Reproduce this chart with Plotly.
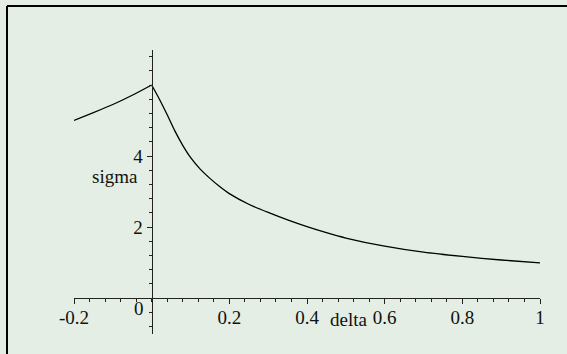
import plotly.graph_objects as go

# ---- data ----
delta_left = [-0.2, -0.15, -0.1, -0.05, 0.0]
sigma_left = [5.0, 5.22, 5.45, 5.71, 6.0]
delta_right = [0.0, 0.02, 0.04, 0.06, 0.08, 0.1, 0.125, 0.15, 0.175, 0.2, 0.25, 0.3,
               0.35, 0.4, 0.45, 0.5, 0.6, 0.7, 0.8, 0.9, 1.0]
sigma_right = [6.0, 5.60, 5.16, 4.70, 4.30, 3.96, 3.63, 3.37, 3.14, 2.94, 2.64, 2.41,
               2.20, 2.01, 1.84, 1.69, 1.46, 1.29, 1.17, 1.07, 0.99]

x_tickvals = [-0.2, 0.2, 0.4, 0.6, 0.8, 1]
x_ticktext = ["-0.2", "0.2", "0.4", "0.6", "0.8", "1"]
y_tickvals = [2, 4]
y_ticktext = ["2", "4"]

W, H = 567, 354
BG = "#E4EEE4"
FONT = "Liberation Serif"
FS = 19
TXT = "#111111"


def px(x):
    return x / W


def py(y):
    return 1 - y / H


x_range = [-0.2, 1.0]
y_range = [-1.0, 7.0]
x_dom = [px(74), px(540)]
y_dom = [py(333.5), py(49.5)]
x0_paper = x_dom[0] + (x_dom[1] - x_dom[0]) * (0 - x_range[0]) / (x_range[1] - x_range[0])
y0_paper = y_dom[0] + (y_dom[1] - y_dom[0]) * (0 - y_range[0]) / (y_range[1] - y_range[0])

fig = go.Figure()
for xs, ys in ((delta_left, sigma_left), (delta_right, sigma_right)):
    fig.add_trace(go.Scatter(x=xs, y=ys, mode="lines",
                             line=dict(color="#000000", width=1.3, shape="spline", smoothing=0.6),
                             hoverinfo="skip", showlegend=False))

axis_color = "#222222"
common_axis = dict(
    showgrid=False, zeroline=False, showline=True, linecolor=axis_color, linewidth=1,
    ticks="outside", ticklen=5, tickwidth=1, tickcolor=axis_color, automargin=False,
    tickfont=dict(family=FONT, size=FS, color=TXT),
)
fig.update_layout(
    width=W, height=H,
    margin=dict(l=0, r=0, t=0, b=0, pad=0),
    paper_bgcolor=BG, plot_bgcolor=BG,
    font=dict(family=FONT, size=FS, color=TXT),
    xaxis=dict(
        range=x_range, domain=x_dom, anchor="free", position=y0_paper,
        tickmode="array", tickvals=x_tickvals, ticktext=x_ticktext, ticklabelstandoff=-3,
        minor=dict(tickmode="linear", tick0=0, dtick=0.04, ticks="outside", ticklen=3,
                   tickwidth=1, tickcolor=axis_color, showgrid=False),
        **common_axis,
    ),
    yaxis=dict(
        range=y_range, domain=y_dom, anchor="free", position=x0_paper,
        tickmode="array", tickvals=y_tickvals, ticktext=y_ticktext,
        minor=dict(tickmode="linear", tick0=0, dtick=0.4, ticks="outside", ticklen=3,
                   tickwidth=1, tickcolor=axis_color, showgrid=False),
        **common_axis,
    ),
    shapes=[
        dict(type="line", xref="paper", yref="paper", x0=px(7), x1=1, y0=py(6), y1=py(6),
             line=dict(color="#000000", width=2)),
        dict(type="line", xref="paper", yref="paper", x0=px(7), x1=px(7), y0=py(6), y1=0,
             line=dict(color="#000000", width=2)),
    ],
    annotations=[
        dict(text="0", xref="paper", yref="paper", x=px(139), y=py(308), showarrow=False,
             xanchor="center", yanchor="middle", font=dict(family=FONT, size=FS, color=TXT)),
        dict(text="sigma", xref="paper", yref="paper", x=px(114.5), y=py(176), showarrow=False,
             xanchor="center", yanchor="middle", font=dict(family=FONT, size=FS, color=TXT)),
        dict(text="delta", xref="paper", yref="paper", x=px(348), y=py(319), showarrow=False,
             xanchor="center", yanchor="middle", font=dict(family=FONT, size=FS, color=TXT)),
    ],
)

fig.write_html(
    "out.html",
    config={"displayModeBar": False, "staticPlot": True},
    post_script="document.body.style.margin='0';document.body.style.background='%s';"
                "document.body.style.overflow='hidden';" % BG,
)
